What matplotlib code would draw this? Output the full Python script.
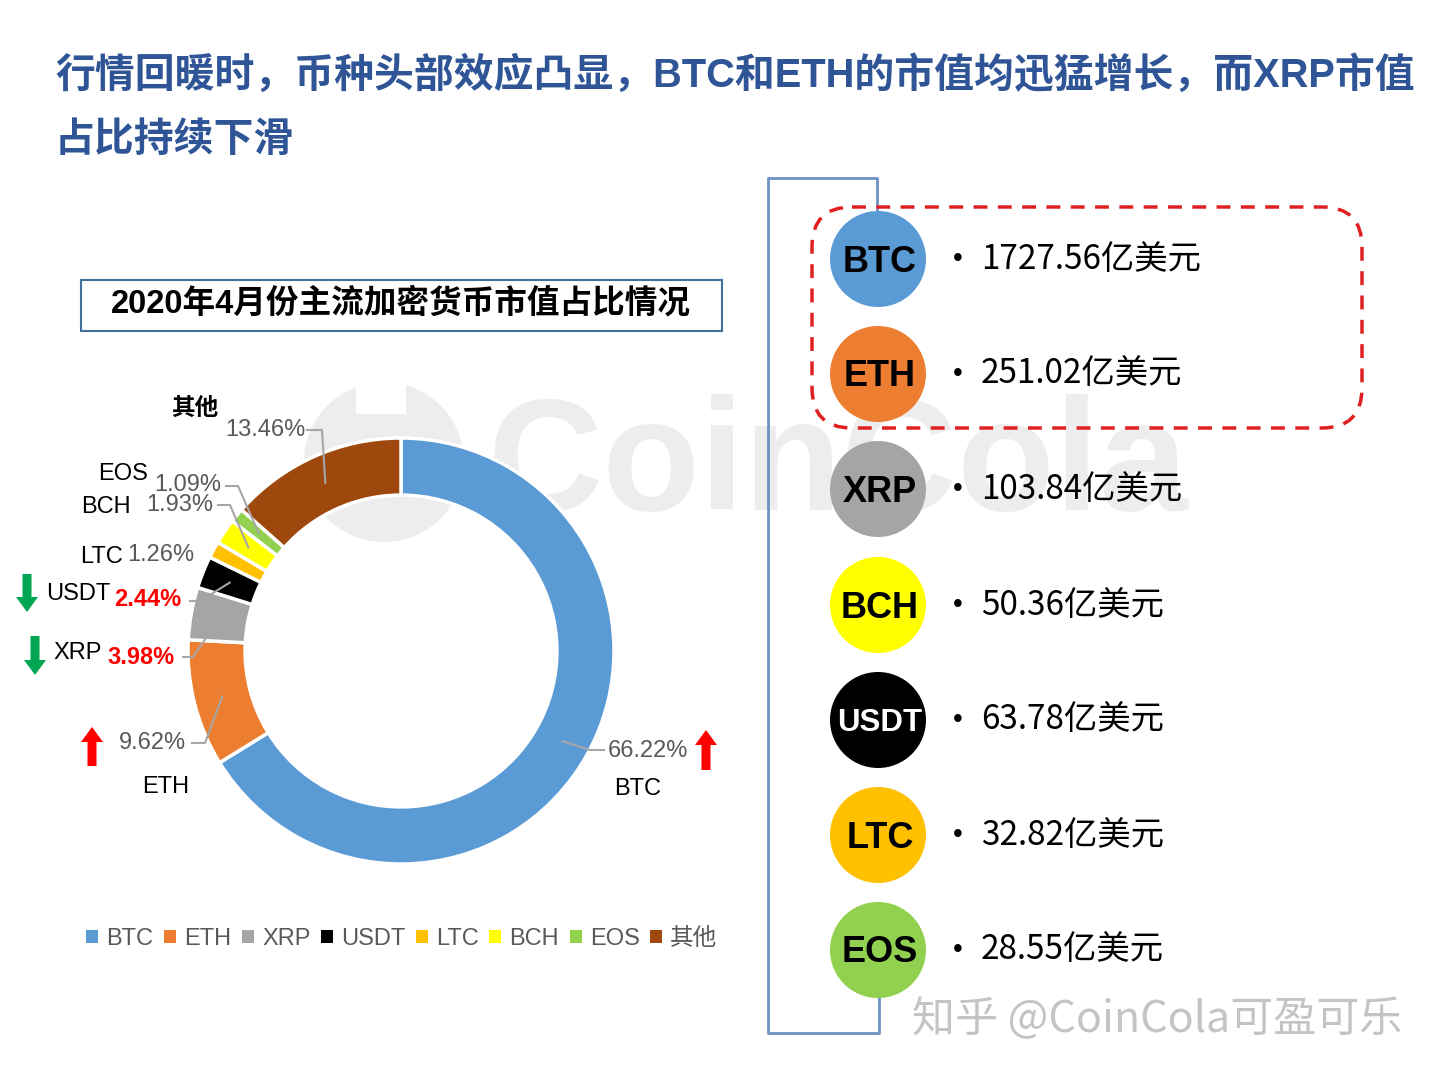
import numpy as np
import matplotlib.pyplot as plt
from matplotlib.patches import Rectangle, Circle, FancyBboxPatch, FancyArrow, Patch

plt.rcParams['font.family'] = ['Liberation Sans', 'Noto Sans CJK SC']

# donut data (share of market cap, April 2020)
coins = ['BTC', 'ETH', 'XRP', 'USDT', 'LTC', 'BCH', 'EOS', '其他']
shares = [66.22, 9.62, 3.98, 2.44, 1.26, 1.93, 1.09, 13.46]
colors = ['#5B9BD5', '#ED7D31', '#A5A5A5', '#000000', '#FFC000', '#FFFF00', '#92D050', '#9E480E']

# right panel: market cap in 亿美元
cap_coins = ['BTC', 'ETH', 'XRP', 'BCH', 'USDT', 'LTC', 'EOS']
cap_values = [1727.56, 251.02, 103.84, 50.36, 63.78, 32.82, 28.55]

title1 = '行情回暖时，币种头部效应凸显，BTC和ETH的市值均迅猛增长，而XRP市值'
title2 = '占比持续下滑'
subtitle = '2020年4月份主流加密货币市值占比情况'

col_of = dict(zip(coins, colors))
GRAY_TXT = '#595959'
LINE = '#A6A6A6'

fig = plt.figure(figsize=(14.4, 10.8), dpi=100)

# background layer (watermark)
bg = fig.add_axes([0, 0, 1, 1])
bg.set_xlim(0, 1440)
bg.set_ylim(1080, 0)
bg.axis('off')
wm = '#EDEDED'
bg.add_patch(Circle((384, 462), 80, color=wm, lw=0))
bg.add_patch(Rectangle((356, 380), 50, 34, color='white', lw=0))
bg.text(488, 468, 'CoinCola', fontsize=115, fontweight='bold', color=wm,
        ha='left', va='center', family='Liberation Sans')

# donut
cx, cy, R = 401, 651, 213
ax_pie = fig.add_axes([(cx - R) / 1440, (1080 - cy - R) / 1080, 2 * R / 1440, 2 * R / 1080])
ax_pie.patch.set_alpha(0)
wedges, _ = ax_pie.pie(shares, colors=colors, startangle=90, counterclock=False, radius=1,
                       wedgeprops=dict(width=0.268, edgecolor='white', linewidth=2.5))
ax_pie.set_xlim(-1, 1)
ax_pie.set_ylim(-1, 1)
ax_pie.axis('off')

handles = [Patch(facecolor=c, edgecolor='none') for c in colors]
leg = ax_pie.legend(handles, coins, ncol=8, loc='center', bbox_to_anchor=(402 / 1440, 1 - 939 / 1080),
                    bbox_transform=fig.transFigure, frameon=False, fontsize=17,
                    handlelength=0.5, handleheight=0.5, handletextpad=0.35, columnspacing=0.45)
for t in leg.get_texts():
    t.set_color(GRAY_TXT)

# top overlay
ax = fig.add_axes([0, 0, 1, 1])
ax.patch.set_alpha(0)
ax.set_xlim(0, 1440)
ax.set_ylim(1080, 0)
ax.axis('off')

ax.text(55, 75, title1, fontsize=28.7, fontweight='bold', color='#2F5597', ha='left', va='center')
ax.text(55, 140, title2, fontsize=28.7, fontweight='bold', color='#2F5597', ha='left', va='center')

ax.add_patch(Rectangle((81, 280), 641, 51, fill=False, ec='#41719C', lw=1.5))
ax.text(401, 304, subtitle, fontsize=23.5, fontweight='bold', color='black', ha='center', va='center')

# wedge midpoints in pixel coords
mids = {}
for name, w in zip(coins, wedges):
    a = np.deg2rad((w.theta1 + w.theta2) / 2)
    r = 0.866 * R
    mids[name] = (cx + r * np.cos(a), cy - r * np.sin(a))

# label layout: (name text, x, y, ha), (pct x, y, ha, red?), leader elbow points
labels = {
    '其他': ((195, 408, 'center', True), (265, 430, 'center', False), [(307, 430), (322, 430)]),
    'EOS': ((148, 474, 'right', False), (154, 485, 'left', False), [(226, 486), (238, 486)]),
    'BCH': ((131, 507, 'right', False), (146, 505, 'left', False), [(218, 505), (230, 505)]),
    'LTC': ((123, 557, 'right', False), (127, 555, 'left', False), None),
    'USDT': ((46, 594, 'left', False), (114, 600, 'left', True), [(190, 601), (200, 601)]),
    'XRP': ((53, 653, 'left', False), (107, 657, 'left', True), [(183, 657), (193, 657)]),
    'ETH': ((166, 787, 'center', False), (119, 743, 'left', False), [(192, 743), (205, 743)]),
    'BTC': ((638, 789, 'center', False), (608, 751, 'left', False), [(604, 750), (590, 750)]),
}
for name, share in zip(coins, shares):
    (nx, ny, nha, nbold), (px, py, pha, red), elbow = labels[name]
    ax.text(nx, ny, name, fontsize=17, color='black', ha=nha, va='center',
            fontweight='bold' if nbold else 'normal')
    ax.text(px, py, f'{share:.2f}%', fontsize=17, ha=pha, va='center',
            color='#FF0000' if red else GRAY_TXT, fontweight='bold' if red else 'normal')
    if elbow:
        pts = elbow + [mids[name]]
        ax.plot([p[0] for p in pts], [p[1] for p in pts], color=LINE, lw=1.5, zorder=5)

# trend arrows
for x, y0, dy, c in [(27, 574, 38, '#00A651'), (35, 636, 39, '#00A651'),
                     (92, 766, -39, '#FF0000'), (706, 770, -40, '#FF0000')]:
    ax.add_patch(FancyArrow(x, y0, 0, dy, width=9, head_width=22, head_length=15,
                            length_includes_head=True, color=c, lw=0))

# right panel bracket
br = '#6A93C3'
ax.plot([877, 877, 768, 768, 879, 879], [215, 178, 178, 1033, 1033, 995], color=br, lw=2, zorder=1)

# red dashed highlight
ax.add_patch(FancyBboxPatch((812, 207), 550, 221, boxstyle='round,pad=0,rounding_size=40',
                            fill=False, ec='#E02020', lw=2.5, ls=(0, (4, 3)), zorder=3))

ys = [259, 374, 489, 605, 720, 835, 950]
for name, val, y in zip(cap_coins, cap_values, ys):
    ax.add_patch(Circle((878, y), 48, color=col_of[name], lw=0, zorder=4))
    ax.text(880, y + 3, name, fontsize=22.5 if name == 'USDT' else 26, fontweight='bold',
            ha='center', va='center', color='white' if name == 'USDT' else 'black', zorder=6)
    ax.text(958, y, '•', fontsize=20, ha='center', va='center', color='black')
    ax.text(981, y, f'{val:.2f}亿美元', fontsize=24, ha='left', va='center', color='black',
            family=['Noto Sans CJK SC'], fontweight='medium')

ax.text(912, 1020, '知乎 @CoinCola可盈可乐', fontsize=31, color='#C4C4C4', ha='left', va='center',
        family=['Noto Sans CJK SC'])

fig.savefig('out.png', dpi=100)
